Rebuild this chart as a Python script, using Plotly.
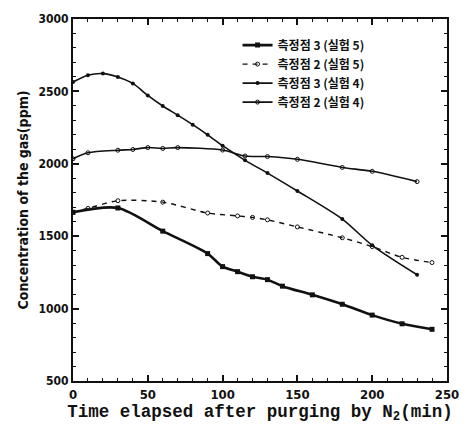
import plotly.graph_objects as go

# Elapsed time (min) and measured gas concentration (ppm) for each point/run
t_p3_r5 = [0, 30, 60, 90, 100, 110, 120, 130, 140, 160, 180, 200, 220, 240]
c_p3_r5 = [1665, 1695, 1535, 1380, 1290, 1255, 1220, 1200, 1155, 1095, 1030, 955, 895, 857]

t_p2_r5 = [0, 10, 30, 60, 90, 110, 120, 130, 150, 180, 200, 220, 240]
c_p2_r5 = [1665, 1692, 1745, 1735, 1660, 1640, 1630, 1613, 1564, 1489, 1428, 1354, 1318]

t_p3_r4 = [0, 10, 20, 30, 40, 50, 60, 70, 80, 90, 100, 115, 130, 150, 180, 200, 230]
c_p3_r4 = [2565, 2612, 2623, 2600, 2555, 2472, 2399, 2336, 2270, 2200, 2125, 2024, 1936, 1812, 1618, 1437, 1234]

t_p2_r4 = [0, 10, 30, 40, 50, 60, 70, 100, 115, 130, 150, 180, 200, 230]
c_p2_r4 = [2035, 2076, 2094, 2099, 2112, 2106, 2112, 2095, 2054, 2050, 2031, 1975, 1948, 1877]

names = ["측정점 3 (실험 5)", "측정점 2 (실험 5)", "측정점 3 (실험 4)", "측정점 2 (실험 4)"]

INK = "#111111"
NARROW = "DejaVu Sans Condensed, Liberation Sans Narrow, Arial Narrow, sans-serif"

fig = go.Figure()
fig.add_trace(go.Scatter(
    x=t_p3_r5, y=c_p3_r5, name=names[0], mode="lines+markers",
    line=dict(color=INK, width=2.6, shape="spline", smoothing=0.8),
    marker=dict(symbol="square", size=5, color=INK)))
fig.add_trace(go.Scatter(
    x=t_p2_r5, y=c_p2_r5, name=names[1], mode="lines+markers",
    line=dict(color=INK, width=1.4, dash="5px,5px", shape="spline", smoothing=0.8),
    marker=dict(symbol="circle-open", size=4, color=INK, line=dict(width=1))))
fig.add_trace(go.Scatter(
    x=t_p3_r4, y=c_p3_r4, name=names[2], mode="lines+markers",
    line=dict(color=INK, width=1.6, shape="spline", smoothing=0.8),
    marker=dict(symbol="circle", size=4, color=INK)))
fig.add_trace(go.Scatter(
    x=t_p2_r4, y=c_p2_r4, name=names[3], mode="lines+markers",
    line=dict(color=INK, width=1.6, shape="spline", smoothing=0.8),
    marker=dict(symbol="circle-open", size=4, color=INK, line=dict(width=1))))

axis_common = dict(
    showline=True, linecolor=INK, linewidth=2.2, mirror="ticks",
    ticks="inside", ticklen=6, tickwidth=1.5, tickcolor=INK,
    showgrid=False, zeroline=False,
)

fig.update_xaxes(
    **axis_common, range=[0, 250], tickvals=[0, 50, 100, 150, 200, 250],
    tickfont=dict(family=NARROW, size=13, color=INK, weight="bold"),
    minor=dict(dtick=10, ticks="inside", ticklen=3, tickcolor=INK, tickwidth=1),
    title=dict(text="<b>Time elapsed after purging by N<sub>2</sub>(min)</b>",
               font=dict(family="Liberation Mono, Courier New, monospace", size=17.5, color=INK),
               standoff=2),
)
fig.update_yaxes(
    **axis_common, range=[500, 3000], tickvals=[500, 1000, 1500, 2000, 2500, 3000],
    tickfont=dict(family=NARROW, size=12, color=INK, weight="bold"),
    minor=dict(dtick=100, ticks="inside", ticklen=3, tickcolor=INK, tickwidth=1),
    title=dict(text="Concentration of the gas(ppm)",
               font=dict(family=NARROW, size=14, color=INK, weight="bold"),
               standoff=7),
)

fig.update_layout(
    width=471, height=428,
    margin=dict(l=73, r=12, t=12, b=47),
    paper_bgcolor="white", plot_bgcolor="white",
    showlegend=True,
    legend=dict(
        x=0.44, y=0.968, xanchor="left", yanchor="top",
        bgcolor="rgba(0,0,0,0)", borderwidth=0,
        font=dict(family="Noto Sans CJK KR, sans-serif", size=12, color=INK, weight="bold"),
        itemwidth=30, tracegroupgap=0,
    ),
)

fig.write_html("out.html")
